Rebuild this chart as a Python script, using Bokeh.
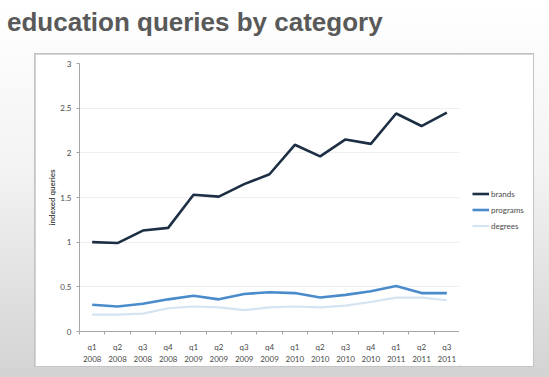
from bokeh.plotting import figure
from bokeh.models import (ColumnDataSource, FixedTicker, Legend, LegendItem, Div, Spacer)
from bokeh.layouts import column, row
from bokeh.embed import file_html
from bokeh.resources import INLINE

title_text = "education queries by category"
quarters = ["q1\n2008", "q2\n2008", "q3\n2008", "q4\n2008",
            "q1\n2009", "q2\n2009", "q3\n2009", "q4\n2009",
            "q1\n2010", "q2\n2010", "q3\n2010", "q4\n2010",
            "q1\n2011", "q2\n2011", "q3\n2011"]
brands = [1.00, 0.99, 1.13, 1.16, 1.53, 1.51, 1.65, 1.76, 2.09, 1.96, 2.15, 2.10, 2.44, 2.30, 2.45]
programs = [0.30, 0.28, 0.31, 0.36, 0.40, 0.36, 0.42, 0.44, 0.43, 0.38, 0.41, 0.45, 0.51, 0.43, 0.43]
degrees = [0.19, 0.19, 0.20, 0.26, 0.28, 0.27, 0.24, 0.27, 0.28, 0.27, 0.29, 0.33, 0.38, 0.38, 0.35]
series_names = ["brands", "programs", "degrees"]
y_ticks = [0, 0.5, 1, 1.5, 2, 2.5, 3]
y_label = "indexed queries"

colors = ["#1d2f45", "#4a8ccb", "#d5e4f2"]
widths = [2.6, 2.6, 2.2]

idx = list(range(len(quarters)))
src = ColumnDataSource(dict(x=idx, brands=brands, programs=programs, degrees=degrees))

W, H = 424, 312
BL, BT, BB = 44, 9, 34
LW = 74

p = figure(width=W, height=H, output_backend="svg", toolbar_location=None,
           x_range=(-0.5, len(quarters) - 0.5), y_range=(0, 3),
           min_border_left=BL, min_border_right=0, min_border_top=BT, min_border_bottom=BB,
           background_fill_color="white", border_fill_color="white",
           outline_line_color=None)

for name, c, w in zip(series_names, colors, widths):
    p.line("x", name, source=src, line_color=c, line_width=w)

FONT = "Lato"
TXT = "#4a4a4a"

# x axis
xa = p.xaxis[0]
xa.ticker = FixedTicker(ticks=idx, minor_ticks=[i - 0.5 for i in idx] + [len(idx) - 0.5])
xa.major_label_overrides = {i: q for i, q in zip(idx, quarters)}
xa.major_tick_out = 0
xa.major_tick_in = 0
xa.minor_tick_out = 3
xa.minor_tick_in = 0
xa.minor_tick_line_color = "#a6a6a6"
xa.axis_line_color = "#a6a6a6"
xa.major_label_standoff = 7
xa.major_label_text_font = FONT
xa.major_label_text_font_size = "8px"
xa.major_label_text_color = TXT

# y axis
ya = p.yaxis[0]
ya.ticker = FixedTicker(ticks=y_ticks)
ya.major_label_overrides = {t: f"{t:g}" for t in y_ticks}
ya.major_tick_out = 3
ya.major_tick_in = 0
ya.minor_tick_line_color = None
ya.major_tick_line_color = "#a6a6a6"
ya.axis_line_color = "#a6a6a6"
ya.major_label_standoff = 5
ya.major_label_text_font = FONT
ya.major_label_text_font_size = "8px"
ya.major_label_text_color = TXT
ya.axis_label = y_label
ya.axis_label_text_font = FONT
ya.axis_label_text_font_size = "8px"
ya.axis_label_text_font_style = "bold"
ya.axis_label_text_color = TXT
ya.axis_label_standoff = 0

p.xgrid.grid_line_color = None
p.ygrid.grid_line_color = "#efefef"
p.ygrid.ticker = FixedTicker(ticks=y_ticks)

# legend panel to the right of the plot area (legend keys only; points lie outside its view)
lfig = figure(width=LW, height=H, output_backend="svg", toolbar_location=None,
              x_range=(0, 1), y_range=(0, 1), x_axis_type=None, y_axis_type=None,
              min_border=0, background_fill_color="white", border_fill_color="white",
              outline_line_color=None)
lfig.grid.visible = False
key_src = ColumnDataSource(dict(x=[5, 6], y=[5, 5]))
lrs = [lfig.line("x", "y", source=key_src, line_color=c, line_width=w) for c, w in zip(colors, widths)]
legend = Legend(items=[LegendItem(label=n, renderers=[r]) for n, r in zip(series_names, lrs)],
                location=(13, 98), margin=0, padding=0, spacing=1,
                glyph_width=17, glyph_height=15, label_height=15, label_standoff=2,
                label_text_font=FONT, label_text_font_size="8px", label_text_color=TXT,
                border_line_color=None, background_fill_alpha=0)
lfig.add_layout(legend)

box = row(p, lfig, spacing=0,
          styles={"outline": "2px solid #c4c4c4", "outline-offset": "-1px", "background": "white"})

title = Div(text=title_text, width=500, height=44, margin=(10, 0, 0, 7),
            styles={"font-family": "Liberation Sans", "font-size": "26px", "font-weight": "bold",
                    "color": "#595959", "line-height": "24px"})

layout = column(title, row(Spacer(width=35, height=H), box, spacing=0), spacing=0,
                width=549, height=377,
                styles={"background": "linear-gradient(to bottom, #ffffff 0%, #f3f3f3 45%, #d3d3d3 100%)"})

open("out.html", "w").write(file_html(layout, INLINE))
